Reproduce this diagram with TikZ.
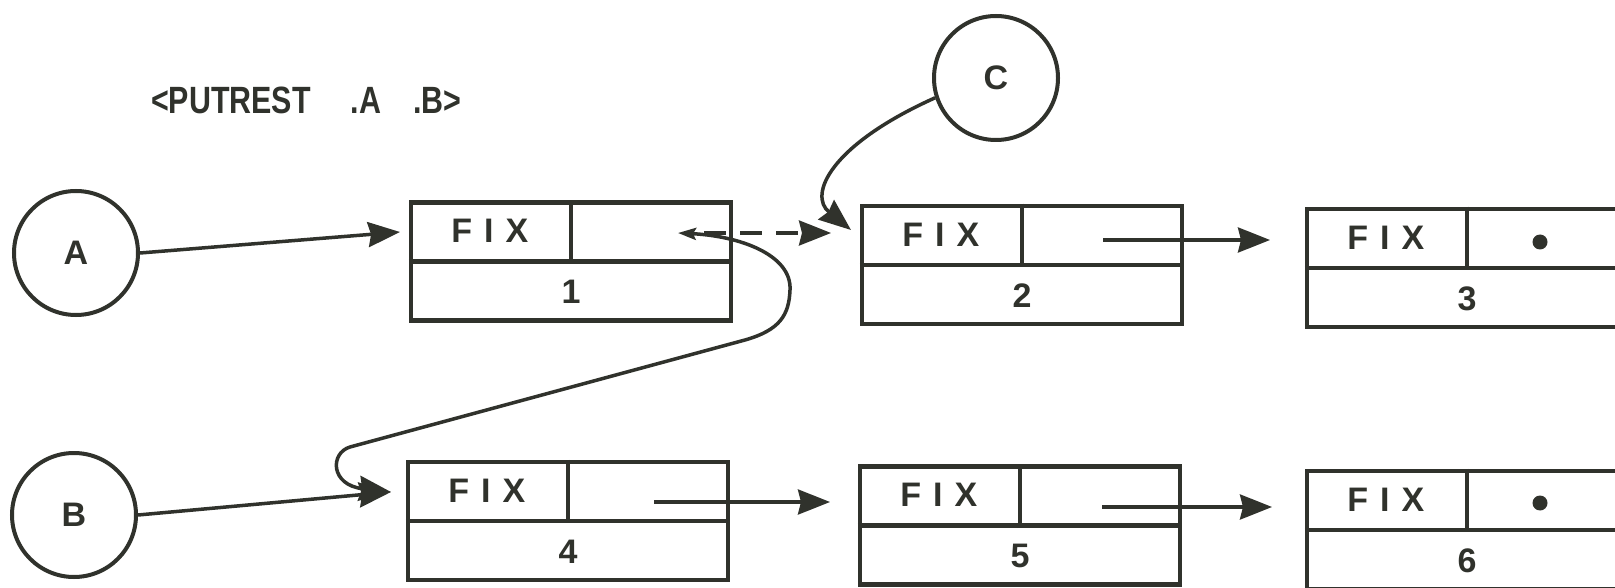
\documentclass[tikz,border=0pt]{standalone}
\usepackage{fontspec}
\usepackage{graphicx}
\setmainfont{Liberation Sans}
\usetikzlibrary{arrows.meta,calc}
\definecolor{ink}{RGB}{48,50,44}
\newcommand\lblfont{\fontsize{34}{36}\selectfont\bfseries}
\tikzset{
  tipbig/.tip={Stealth[length=32pt,width=25pt,inset=3pt]},
  ptr/.style={line width=3.5pt, draw=ink, -tipbig},
  circnode/.style={circle, draw=ink, line width=4pt, minimum size=124pt, inner sep=0pt, font=\lblfont, text=ink},
  consbox/.style={rectangle, draw=ink, line width=4.5pt, minimum width=320pt, minimum height=118pt, inner sep=0pt},
  lbl/.style={font=\lblfont, text=ink, inner sep=0pt},
  nildot/.style={circle, fill=ink, minimum size=15pt, inner sep=0pt},
}
\newcommand\cons[5]{%
  \node[consbox] (#1) at (#2,#3) {};
  \draw[ink, line width=4.5pt] (#1.west) -- (#1.east) (#1.north) -- (#1.center);
  \node[lbl] (#1f) at ($(#1.north west)!0.5!(#1.center)$) {F\hspace{12pt}I\hspace{12pt}X};
  \node[lbl] (#1n) at ($(#1.south)!0.5!(#1.center)$) {#4};
  #5
}
\begin{document}
\begin{tikzpicture}[x=1pt,y=-1pt]
\useasboundingbox (0,0) rectangle (1615,588);
\clip (0,0) rectangle (1615,588);
\fill[white] (0,0) rectangle (1615,588);

\node[lbl, anchor=west] (title) at (151,100)
  {\scalebox{0.8}[1]{\fontsize{38}{40}\selectfont\bfseries <PUTREST\hspace{50pt}.A\hspace{40pt}.B>}};

\node[circnode] (A) at (76,253) {A};
\node[circnode] (B) at (74,515) {B};
\node[circnode] (C) at (996,78) {C};

\cons{b1}{571}{261.5}{1}{}
\cons{b2}{1022}{265}{2}{}
\cons{b3}{1467}{268}{3}{\node[nildot] (b3dot) at (1540,242) {};}
\cons{b4}{568}{521}{4}{}
\cons{b5}{1020}{525.5}{5}{}
\cons{b6}{1467}{530}{6}{\node[nildot] (b6dot) at (1540,503) {};}

% pointer start and entry points
\coordinate (b1p) at (678,233);
\coordinate (b1d) at (704,233);
\coordinate (b1in) at (400,232);
\coordinate (b2in) at (831,233);
\coordinate (b2c) at (851,230);
\coordinate (b2p) at (1103,240);
\coordinate (b3in) at (1270,240);
\coordinate (b4in) at (391,492);
\coordinate (b4p) at (654,502);
\coordinate (b5in) at (830,502);
\coordinate (b5p) at (1102,507);
\coordinate (b6in) at (1272,507);

\draw[ptr] (A.east) -- (b1in);
\draw[ptr] (B.east) -- (b4in);
\draw[ptr] (b2p) -- (b3in);
\draw[ptr] (b4p) -- (b5in);
\draw[ptr] (b5p) -- (b6in);
\draw[ptr, dash pattern=on 22pt off 14pt] (b1d) -- (b2in);
\draw[ptr] (C.198) .. controls (830,145) and (808,195) .. (b2c);
\draw[line width=3.5pt, draw=ink, fill=none, {Stealth[length=18pt,width=12pt,inset=3pt]}-tipbig]
  (b1p) .. controls (740,236) and (792,255) .. (790,290)
  .. controls (789,315) and (780,330) .. (745,340)
  -- (350,447) .. controls (330,453) and (330,485) .. (b4in);
\end{tikzpicture}
\end{document}
